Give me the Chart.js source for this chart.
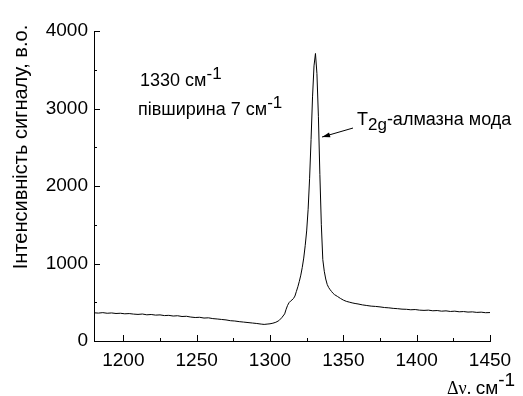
<!DOCTYPE html>
<html>
<head>
<meta charset="utf-8">
<script src="https://cdn.jsdelivr.net/npm/chart.js@4/dist/chart.umd.min.js"></script>
<style>
html,body{margin:0;padding:0;background:#fff;}
#wrap{width:523px;height:396px;position:relative;}
</style>
</head>
<body>
<div id="wrap"><canvas id="c" width="523" height="396"></canvas></div>
<script>
// Raman shift (cm^-1)
const shifts = [1180,1183,1186,1189,1192,1195,1198,1201,1204,1207,1210,1213,1216,1219,1222,1225,1228,1231,1234,1237,1240,1243,1246,1249,1252,1255,1258,1261,1264,1267,1270,1273,1276,1279,1282,1285,1288,1291,1294,1296,1298,1300,1302,1304,1306,1308,1310,1311,1312,1313,1314,1315,1316,1317,1318,1319,1320,1321,1322,1323,1324,1325,1326,1327,1328,1329,1330,1331,1332,1333,1334,1335,1336,1337,1338,1339,1340,1341,1342,1343,1344,1346,1348,1350,1352,1354,1356,1358,1360,1363,1366,1369,1372,1375,1378,1381,1384,1387,1390,1393,1396,1399,1402,1405,1408,1411,1414,1417,1420,1423,1426,1429,1432,1435,1438,1441,1444,1447,1450];
// Signal intensity (a.u.)
const intensity = [364,360,366,358,362,355,358,351,354,347,343,348,338,342,334,337,328,331,322,326,316,319,309,303,306,296,299,289,284,278,272,262,258,250,244,238,232,226,218,214,218,222,230,242,262,300,350,410,460,495,515,530,548,580,640,700,770,850,950,1070,1230,1420,1700,2100,2600,3150,3550,3710,3450,2900,2150,1500,1050,900,800,730,690,662,638,615,598,575,550,528,512,502,492,484,478,466,458,450,446,440,432,428,421,417,411,409,403,406,398,395,398,390,393,385,389,381,385,377,380,373,376,369,372,365,367];

const xTicks = [1200,1250,1300,1350,1400,1450];
const xMinorTicks = [1225,1275,1325,1375,1425];
const yTicks = [0,1000,2000,3000,4000];
const yMinorTicks = [500,1500,2500,3500];

const FONT = "'Liberation Sans', Arial, sans-serif";

function drawParts(ctx, x, y, parts) {
  let cx = x;
  for (const p of parts) {
    ctx.font = p.font;
    ctx.fillText(p.text, cx, y + (p.dy || 0));
    cx += ctx.measureText(p.text).width;
  }
}

const decor = {
  id: 'decor',
  afterDraw(chart) {
    const ctx = chart.ctx;
    const xs = chart.scales.x, ys = chart.scales.y;
    const area = chart.chartArea;
    ctx.save();
    ctx.strokeStyle = '#000';
    ctx.lineWidth = 1;
    ctx.beginPath();
    for (const v of xTicks) { const px = Math.round(xs.getPixelForValue(v)) + 0.5; ctx.moveTo(px, area.bottom); ctx.lineTo(px, area.bottom - 6); }
    for (const v of xMinorTicks) { const px = Math.round(xs.getPixelForValue(v)) + 0.5; ctx.moveTo(px, area.bottom); ctx.lineTo(px, area.bottom - 3); }
    for (const v of yTicks) { const py = Math.round(ys.getPixelForValue(v)) + 0.5; ctx.moveTo(area.left, py); ctx.lineTo(area.left + 6, py); }
    for (const v of yMinorTicks) { const py = Math.round(ys.getPixelForValue(v)) + 0.5; ctx.moveTo(area.left, py); ctx.lineTo(area.left + 3, py); }
    ctx.stroke();

    ctx.fillStyle = '#000';
    ctx.textBaseline = 'alphabetic';
    ctx.textAlign = 'left';
    // y title
    ctx.save();
    ctx.translate(27, 147);
    ctx.rotate(-Math.PI / 2);
    ctx.textAlign = 'center';
    ctx.font = '20px ' + FONT;
    ctx.fillText('Інтенсивність сигналу, в.о.', 0, 0);
    ctx.restore();

    // x title
    const xt = 447, yb = 394;
    ctx.font = '18px "Liberation Serif", "Times New Roman", serif';
    ctx.fillText('Δν.', xt, yb);
    let w = ctx.measureText('Δν. ').width;
    drawParts(ctx, xt + w, yb, [
      {text: 'см', font: '19px ' + FONT},
      {text: '-1', font: '19px ' + FONT, dy: -8}
    ]);

    // annotations
    const a1x = xs.getPixelForValue(1211.4), a1y = ys.getPixelForValue(3290);
    drawParts(ctx, a1x, a1y, [
      {text: '1330 см', font: '18px ' + FONT},
      {text: '-1', font: '17px ' + FONT, dy: -7}
    ]);
    const a2x = xs.getPixelForValue(1210), a2y = ys.getPixelForValue(2916);
    drawParts(ctx, a2x, a2y, [
      {text: 'півширина 7 см', font: '18px ' + FONT},
      {text: '-1', font: '17px ' + FONT, dy: -7}
    ]);
    const a3x = xs.getPixelForValue(1359.3), a3y = ys.getPixelForValue(2787);
    drawParts(ctx, a3x, a3y, [
      {text: 'T', font: '18px ' + FONT},
      {text: '2g', font: '17px ' + FONT, dy: 5},
      {text: '-алмазна мода', font: '18px ' + FONT}
    ]);
    // arrow
    const sx = xs.getPixelForValue(1356.6), sy = ys.getPixelForValue(2748);
    const tx = xs.getPixelForValue(1335.5), ty = ys.getPixelForValue(2632);
    ctx.beginPath();
    ctx.moveTo(sx, sy); ctx.lineTo(tx, ty); ctx.stroke();
    const ang = Math.atan2(ty - sy, tx - sx);
    const L = 8, H = 2.5;
    ctx.beginPath();
    ctx.moveTo(tx, ty);
    ctx.lineTo(tx - L * Math.cos(ang) + H * Math.sin(ang), ty - L * Math.sin(ang) - H * Math.cos(ang));
    ctx.lineTo(tx - L * Math.cos(ang) - H * Math.sin(ang), ty - L * Math.sin(ang) + H * Math.cos(ang));
    ctx.closePath();
    ctx.fill();
    ctx.restore();
  }
};

new Chart(document.getElementById('c'), {
  type: 'line',
  data: {
    datasets: [{
      data: shifts.map((s, i) => ({x: s, y: intensity[i]})),
      borderColor: '#000',
      borderWidth: 1,
      pointRadius: 0,
      tension: 0,
      fill: false
    }]
  },
  options: {
    responsive: false,
    animation: false,
    events: [],
    layout: {padding: {top: 31, right: 33, left: 0, bottom: 0}},
    plugins: {legend: {display: false}, tooltip: {enabled: false}},
    scales: {
      x: {
        type: 'linear',
        min: 1180, max: 1450,
        afterBuildTicks: s => { s.ticks = xTicks.map(v => ({value: v})); },
        afterFit: s => { s.height = 55; },
        grid: {display: false, drawTicks: false},
        border: {display: true, color: '#000', width: 1},
        ticks: {color: '#000', font: {family: FONT, size: 19}, padding: 8, maxRotation: 0, autoSkip: false, callback: v => String(v)}
      },
      y: {
        min: 0, max: 4000,
        afterBuildTicks: s => { s.ticks = yTicks.map(v => ({value: v})); },
        afterFit: s => { s.width = 94; },
        grid: {display: false, drawTicks: false},
        border: {display: true, color: '#000', width: 1},
        ticks: {color: '#000', font: {family: FONT, size: 19}, padding: 6, callback: v => String(v)}
      }
    }
  },
  plugins: [decor]
});
</script>
</body>
</html>
